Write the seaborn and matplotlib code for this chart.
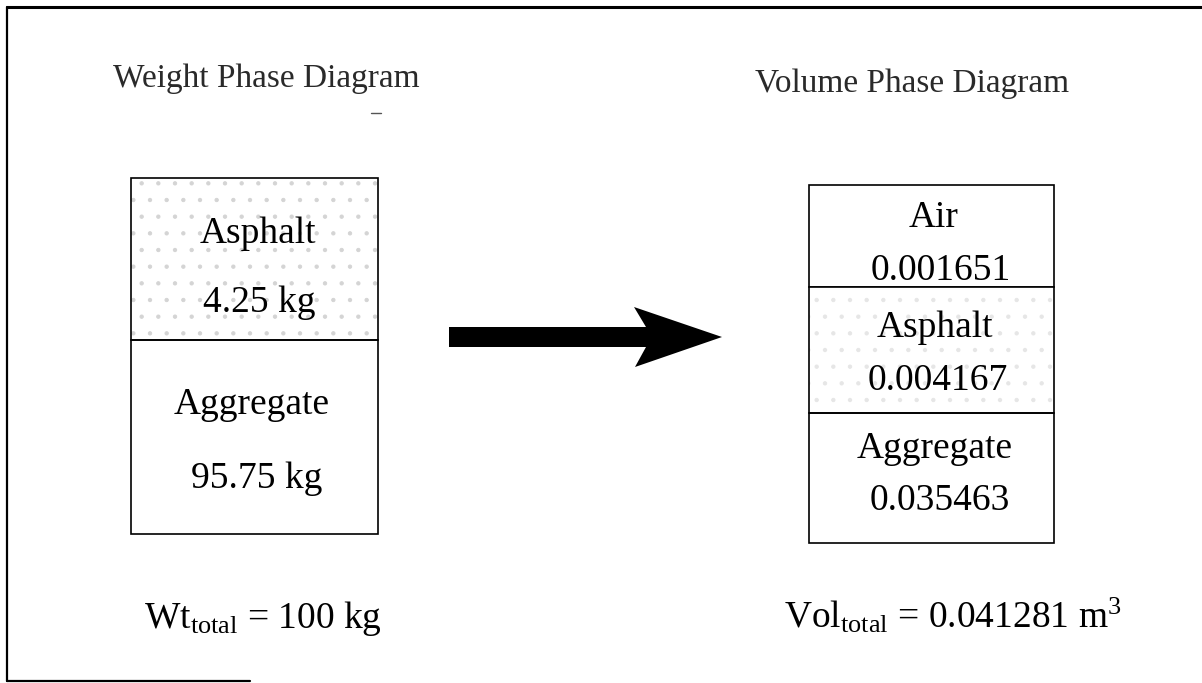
import matplotlib
matplotlib.use("Agg")
import matplotlib.pyplot as plt
from matplotlib.patches import Rectangle
import seaborn as sns

# ---------------------------------------------------------------
# values shown in the diagram
# ---------------------------------------------------------------
weight_phases = ["Asphalt", "Aggregate"]
weight_kg = [4.25, 95.75]
weight_total = 100

volume_phases = ["Air", "Asphalt", "Aggregate"]
volume_m3 = [0.001651, 0.004167, 0.035463]
volume_total = 0.041281

# ---------------------------------------------------------------
# style
# ---------------------------------------------------------------
sns.set_theme(style="white")
plt.rcParams["font.family"] = ["Liberation Serif", "DejaVu Serif"]
plt.rcParams["text.color"] = "black"
plt.rcParams["mathtext.fontset"] = "custom"
plt.rcParams["mathtext.rm"] = "Liberation Serif"
plt.rcParams["mathtext.it"] = "Liberation Serif:italic"
plt.rcParams["hatch.linewidth"] = 0.7

fig = plt.figure(figsize=(12.02, 6.83), dpi=100)
ax = fig.add_axes([0, 0, 1, 1])
ax.set_xlim(0, 1202)
ax.set_ylim(683, 0)
ax.axis("off")

# outer frame (top, left and a short piece of the bottom)
ax.plot([7, 1202], [7, 7], color="black", lw=2.2)
ax.plot([7, 7], [7, 681], color="black", lw=1.6)
ax.plot([7, 250], [681, 681], color="black", lw=1.6)

# titles
ax.text(113, 87, "Weight Phase Diagram", fontsize=24, color="#2a2a2a", va="baseline")
ax.text(755, 92, "Volume Phase Diagram", fontsize=24, color="#2a2a2a", va="baseline")
ax.plot([371, 381], [113, 113], color="#555555", lw=1)


def phase_box(ax, x0, x1, edges, shades):
    # one stacked box, one cell per phase (shade = stipple colour or None)
    for (top, bottom), shade in zip(zip(edges[:-1], edges[1:]), shades):
        if shade:
            ax.add_patch(Rectangle((x0, top), x1 - x0, bottom - top, facecolor="white",
                                   edgecolor=shade, hatch=".", lw=0))
        ax.add_patch(Rectangle((x0, top), x1 - x0, bottom - top, facecolor="none",
                               edgecolor="black", lw=1.2))


# weight diagram
phase_box(ax, 131, 378, [178, 340, 534], ["#d4d4d4", None])
w_name_y = [243, 414]
w_val_y = [312, 488]
w_cx = [258, 252]
w_vx = [259, 257]
for name, val, ny, vy, nx, vx in zip(weight_phases, weight_kg, w_name_y, w_val_y, w_cx, w_vx):
    ax.text(nx, ny, name, fontsize=27, ha="center", va="baseline")
    ax.text(vx, vy, f"{val:.2f} kg", fontsize=27, ha="center", va="baseline")
ax.text(144, 628, r"Wt$_{\mathrm{total}}$ = " + f"{weight_total} kg", fontsize=27, va="baseline")

# arrow
ax.fill([449, 646, 634, 722, 635, 646, 449], [327, 327, 307, 337, 367, 347, 347],
        color="black", lw=0)

# volume diagram
phase_box(ax, 809, 1054, [185, 287, 413, 543], [None, "#e6e6e6", None])
v_name_y = [227, 337, 458]
v_val_y = [280, 390, 510]
v_cx = [934, 935, 935]
v_vx = [941, 938, 940]
for name, val, ny, vy, nx, vx in zip(volume_phases, volume_m3, v_name_y, v_val_y, v_cx, v_vx):
    ax.text(nx, ny, name, fontsize=27, ha="center", va="baseline")
    ax.text(vx, vy, f"{val:.6f}", fontsize=27, ha="center", va="baseline")
ax.text(784, 628, r"Vol$_{\mathrm{total}}$ = " + f"{volume_total:.6f}" + r" m$^{3}$",
        fontsize=27, va="baseline")

fig.savefig("out.png", dpi=100, facecolor="white")
